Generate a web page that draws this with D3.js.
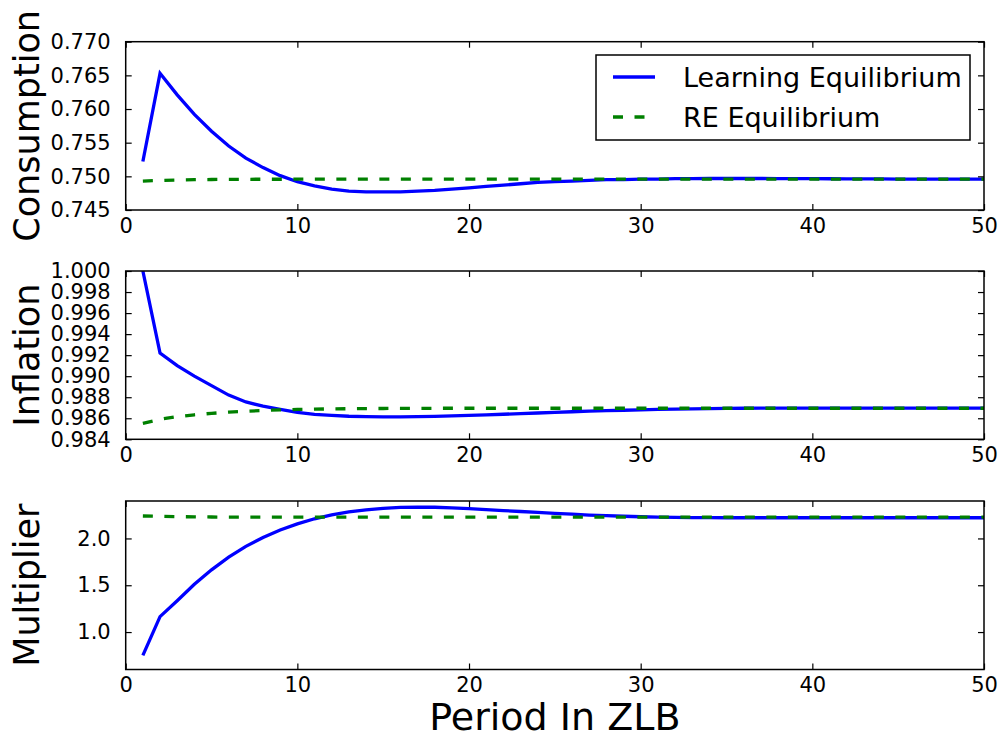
<!DOCTYPE html>
<html>
<head>
<meta charset="utf-8">
<script src="https://cdn.jsdelivr.net/npm/d3@7"></script>
<style>
  html, body { margin: 0; padding: 0; background: #ffffff; }
  svg { display: block; font-family: "DejaVu Sans", sans-serif; }
</style>
</head>
<body>
<svg id="chart" width="1002" height="742"></svg>
<script>
// ---------- data ----------
const periods = [1,2,3,4,5,6,7,8,9,10,11,12,13,14,15,16,17,18,19,20,21,22,23,24,25,26,27,28,29,30,31,32,33,34,35,36,37,38,39,40,41,42,43,44,45,46,47,48,49,50];

const consumptionLearning = [0.7522,0.7653,0.7621,0.7592,0.7567,0.7545,0.7527,0.7513,0.7501,0.7492,
  0.7486,0.7481,0.7478,0.7477,0.7477,0.7477,0.7478,0.7479,0.7481,0.7483,
  0.7485,0.7487,0.7489,0.7491,0.7492,0.7493,0.7494,0.7495,0.7495,0.7496,
  0.7496,0.74965,0.74967,0.74968,0.74968,0.74968,0.74968,0.74967,0.74966,0.74965,
  0.74964,0.74963,0.74962,0.74961,0.7496,0.7496,0.7496,0.7496,0.7496,0.7496];
const consumptionRE = [0.7493,0.7494,0.74945,0.7495,0.74953,0.74955,0.74956,0.74957,0.74957,0.74958,
  0.74958,0.74958,0.74958,0.74958,0.74958,0.74958,0.74958,0.74958,0.74958,0.74958,
  0.74958,0.74958,0.74958,0.74958,0.74958,0.74958,0.74958,0.74958,0.74958,0.74958,
  0.74958,0.74958,0.74958,0.74958,0.74958,0.74958,0.74958,0.74958,0.74958,0.74958,
  0.74958,0.74958,0.74958,0.74958,0.74958,0.74958,0.74958,0.74958,0.74958,0.74958];

const inflationLearning = [1.0000,0.9922,0.9910,0.9900,0.9891,0.9882,0.98755,0.98715,0.98685,0.98655,
  0.98637,0.98627,0.98619,0.98615,0.98613,0.98613,0.98615,0.98618,0.98622,0.98627,
  0.98632,0.98638,0.98644,0.9865,0.98656,0.98662,0.98667,0.98672,0.98676,0.9868,
  0.98684,0.98687,0.9869,0.98692,0.98694,0.98695,0.98696,0.98696,0.98696,0.98696,
  0.98696,0.98696,0.98696,0.98696,0.98696,0.98696,0.98696,0.98696,0.98696,0.98696];
const inflationRE = [0.98552,0.9859,0.98615,0.98633,0.98647,0.98658,0.98667,0.98674,0.9868,0.98684,
  0.98687,0.98689,0.98691,0.98692,0.98693,0.98694,0.98694,0.98695,0.98695,0.98695,
  0.98695,0.98695,0.98695,0.98695,0.98695,0.98695,0.98695,0.98695,0.98695,0.98695,
  0.98695,0.98695,0.98695,0.98695,0.98695,0.98695,0.98695,0.98695,0.98695,0.98695,
  0.98695,0.98695,0.98695,0.98695,0.98695,0.98695,0.98695,0.98695,0.98695,0.98695];

const multiplierLearning = [0.75,1.165,1.335,1.51,1.665,1.80,1.915,2.01,2.09,2.155,
  2.21,2.252,2.283,2.305,2.322,2.331,2.335,2.333,2.327,2.318,
  2.308,2.298,2.288,2.278,2.268,2.259,2.25,2.243,2.237,2.232,
  2.228,2.225,2.223,2.222,2.221,2.221,2.221,2.221,2.221,2.221,
  2.221,2.221,2.221,2.221,2.221,2.221,2.221,2.221,2.221,2.221];
const multiplierRE = [2.24,2.236,2.233,2.231,2.229,2.228,2.227,2.227,2.227,2.227,
  2.227,2.227,2.227,2.227,2.227,2.227,2.227,2.227,2.227,2.227,
  2.227,2.227,2.227,2.227,2.227,2.227,2.227,2.227,2.227,2.227,
  2.227,2.227,2.227,2.227,2.227,2.227,2.227,2.227,2.227,2.227,
  2.227,2.227,2.227,2.227,2.227,2.227,2.227,2.227,2.227,2.227];

const xTicks = [0,10,20,30,40,50];
const consumptionTicks = [0.745,0.750,0.755,0.760,0.765,0.770];
const inflationTicks = [0.984,0.986,0.988,0.990,0.992,0.994,0.996,0.998,1.000];
const multiplierTicks = [1.0,1.5,2.0];

const seriesNames = ["Learning Equilibrium", "RE Equilibrium"];
const panelLabels = ["Consumption", "Inflation", "Multiplier"];
const xLabel = "Period In ZLB";

// ---------- layout ----------
const svg = d3.select("#chart");
const left = 125.7, right = 984;
const panels = [
  { label: panelLabels[0], top: 41.7, bottom: 210, domain: [0.745, 0.770], ticks: consumptionTicks, fmt: d3.format(".3f"),
    learn: consumptionLearning, re: consumptionRE, legend: true },
  { label: panelLabels[1], top: 271, bottom: 439.3, domain: [0.984, 1.000], ticks: inflationTicks, fmt: d3.format(".3f"),
    learn: inflationLearning, re: inflationRE },
  { label: panelLabels[2], top: 501, bottom: 669.5, domain: [0.6, 2.4], ticks: multiplierTicks, fmt: d3.format(".1f"),
    learn: multiplierLearning, re: multiplierRE }
];

const x = d3.scaleLinear().domain([0, 50]).range([left, right]);
const tickLen = 6;
const tickFont = 21;

panels.forEach((p, i) => {
  const y = d3.scaleLinear().domain(p.domain).range([p.bottom, p.top]);
  const g = svg.append("g");

  const clipId = "clip" + i;
  svg.append("defs").append("clipPath").attr("id", clipId)
    .append("rect").attr("x", left).attr("y", p.top).attr("width", right - left).attr("height", p.bottom - p.top);

  const line = d3.line().x((d, k) => x(periods[k])).y(d => y(d));

  g.append("path").datum(p.learn).attr("d", line)
    .attr("fill", "none").attr("stroke", "#0000ff").attr("stroke-width", 3.3)
    .attr("stroke-linejoin", "miter").attr("clip-path", `url(#${clipId})`);
  g.append("path").datum(p.re).attr("d", line)
    .attr("fill", "none").attr("stroke", "#008000").attr("stroke-width", 3.3)
    .attr("stroke-dasharray", "10,11.5").attr("clip-path", `url(#${clipId})`);

  // axes (ticks inward on all four sides)
  const axL = d3.axisLeft(y).tickValues(p.ticks).tickFormat(p.fmt).tickSizeInner(-tickLen).tickSizeOuter(0).tickPadding(15);
  const axR = d3.axisRight(y).tickValues(p.ticks).tickFormat("").tickSizeInner(-tickLen).tickSizeOuter(0);
  const axB = d3.axisBottom(x).tickValues(xTicks).tickFormat(d3.format("d")).tickSizeInner(-tickLen).tickSizeOuter(0).tickPadding(8);
  const axT = d3.axisTop(x).tickValues(xTicks).tickFormat("").tickSizeInner(-tickLen).tickSizeOuter(0);

  const styleAxis = sel => {
    sel.select(".domain").remove();
    sel.selectAll(".tick line").attr("stroke", "#000").attr("stroke-width", 1.2);
    sel.selectAll(".tick text").attr("fill", "#000").style("font-size", tickFont + "px")
      .style("font-family", "'DejaVu Sans', sans-serif");
  };
  g.append("g").attr("transform", `translate(${left},0)`).call(axL).call(styleAxis);
  g.append("g").attr("transform", `translate(${right},0)`).call(axR).call(styleAxis);
  g.append("g").attr("transform", `translate(0,${p.bottom})`).call(axB).call(styleAxis);
  g.append("g").attr("transform", `translate(0,${p.top})`).call(axT).call(styleAxis);

  g.append("rect").attr("x", left).attr("y", p.top).attr("width", right - left).attr("height", p.bottom - p.top)
    .attr("fill", "none").attr("stroke", "#000").attr("stroke-width", 1.5);

  // y label
  svg.append("text")
    .attr("transform", `translate(${39},${(p.top + p.bottom) / 2}) rotate(-90)`)
    .attr("text-anchor", "middle")
    .style("font-size", "35px")
    .text(p.label);

  if (p.legend) {
    const lg = svg.append("g");
    lg.append("rect").attr("x", 596).attr("y", 55).attr("width", 374).attr("height", 85)
      .attr("fill", "#fff").attr("stroke", "#000").attr("stroke-width", 1.5);
    const rows = [
      { name: seriesNames[0], color: "#0000ff", dash: null, yy: 77 },
      { name: seriesNames[1], color: "#008000", dash: "10,11.5", yy: 117 }
    ];
    rows.forEach(r => {
      lg.append("line").attr("x1", 613).attr("x2", 655).attr("y1", r.yy).attr("y2", r.yy)
        .attr("stroke", r.color).attr("stroke-width", 3.3).attr("stroke-dasharray", r.dash);
      lg.append("text").attr("x", 683).attr("y", r.yy).attr("dy", "0.36em")
        .style("font-size", "27px").text(r.name);
    });
  }
});

svg.append("text").attr("x", (left + right) / 2).attr("y", 730)
  .attr("text-anchor", "middle").style("font-size", "38px").text(xLabel);
</script>
</body>
</html>
